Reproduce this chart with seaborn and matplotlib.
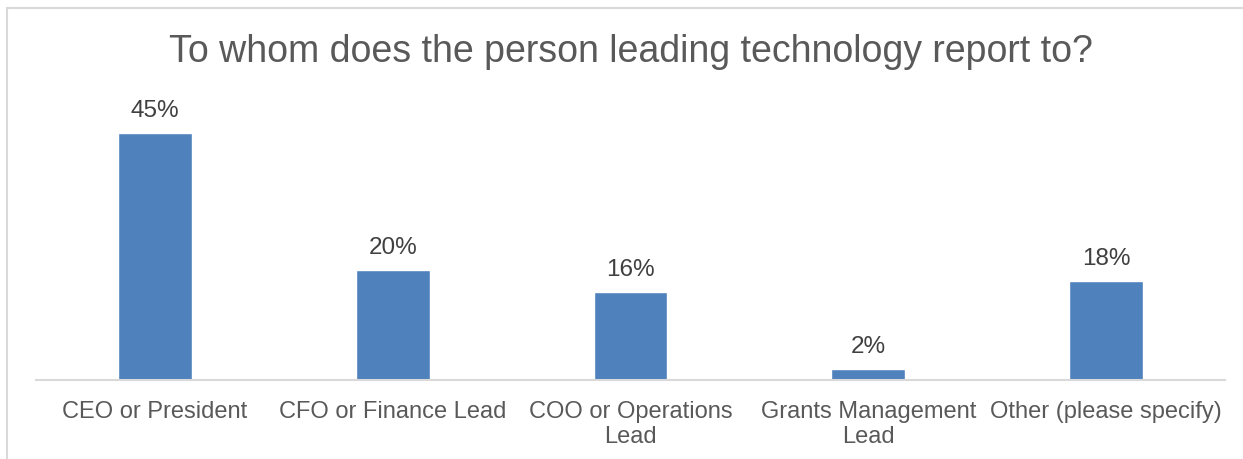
import matplotlib
matplotlib.use("Agg")
import matplotlib.pyplot as plt
import seaborn as sns
import pandas as pd
from matplotlib.patches import Rectangle

categories = ["CEO or President", "CFO or Finance Lead", "COO or Operations\nLead",
              "Grants Management\nLead", "Other (please specify)"]
values = [45, 20, 16, 2, 18]
value_labels = ["45%", "20%", "16%", "2%", "18%"]
title = "To whom does the person leading technology report to?"

sns.set_theme(style="white")
plt.rcParams["font.family"] = ["Liberation Sans", "DejaVu Sans"]

W, H = 1243, 459
fig = plt.figure(figsize=(W / 100, H / 100), dpi=100)
ax = fig.add_axes([36 / W, 1 - 380 / H, (1225 - 36) / W, (380 - 105.5) / H])

df = pd.DataFrame({"category": categories, "value": values})
sns.barplot(data=df, x="category", y="value", color="#4F81BD", width=0.31,
            saturation=1, ax=ax)
ax.set_ylim(0, 50)
ax.set_xlim(-0.5, len(categories) - 0.5)

for i, (v, lab) in enumerate(zip(values, value_labels)):
    ax.text(i, v + 2.9, lab, ha="center", va="baseline", fontsize=17.5, color="#404040")

ax.set_xlabel("")
ax.set_ylabel("")
ax.set_yticks([])
ax.tick_params(axis="x", length=0, pad=15, labelsize=17, labelcolor="#595959")
for t in ax.get_xticklabels():
    t.set_linespacing(1.2)
for s in ["top", "right", "left"]:
    ax.spines[s].set_visible(False)
ax.spines["bottom"].set_color("#D9D9D9")
ax.spines["bottom"].set_linewidth(1.5)

fig.text(631 / W, 1 - 62 / H, title, ha="center", va="baseline", fontsize=27, color="#595959")

# light outer frame of the chart area
fig.patches.append(Rectangle((6.5 / W, -0.1), 1.2, 1 - 7.5 / H + 0.1,
                             transform=fig.transFigure, fill=False,
                             edgecolor="#D9D9D9", linewidth=1.5))

fig.savefig("out.png", dpi=100)
